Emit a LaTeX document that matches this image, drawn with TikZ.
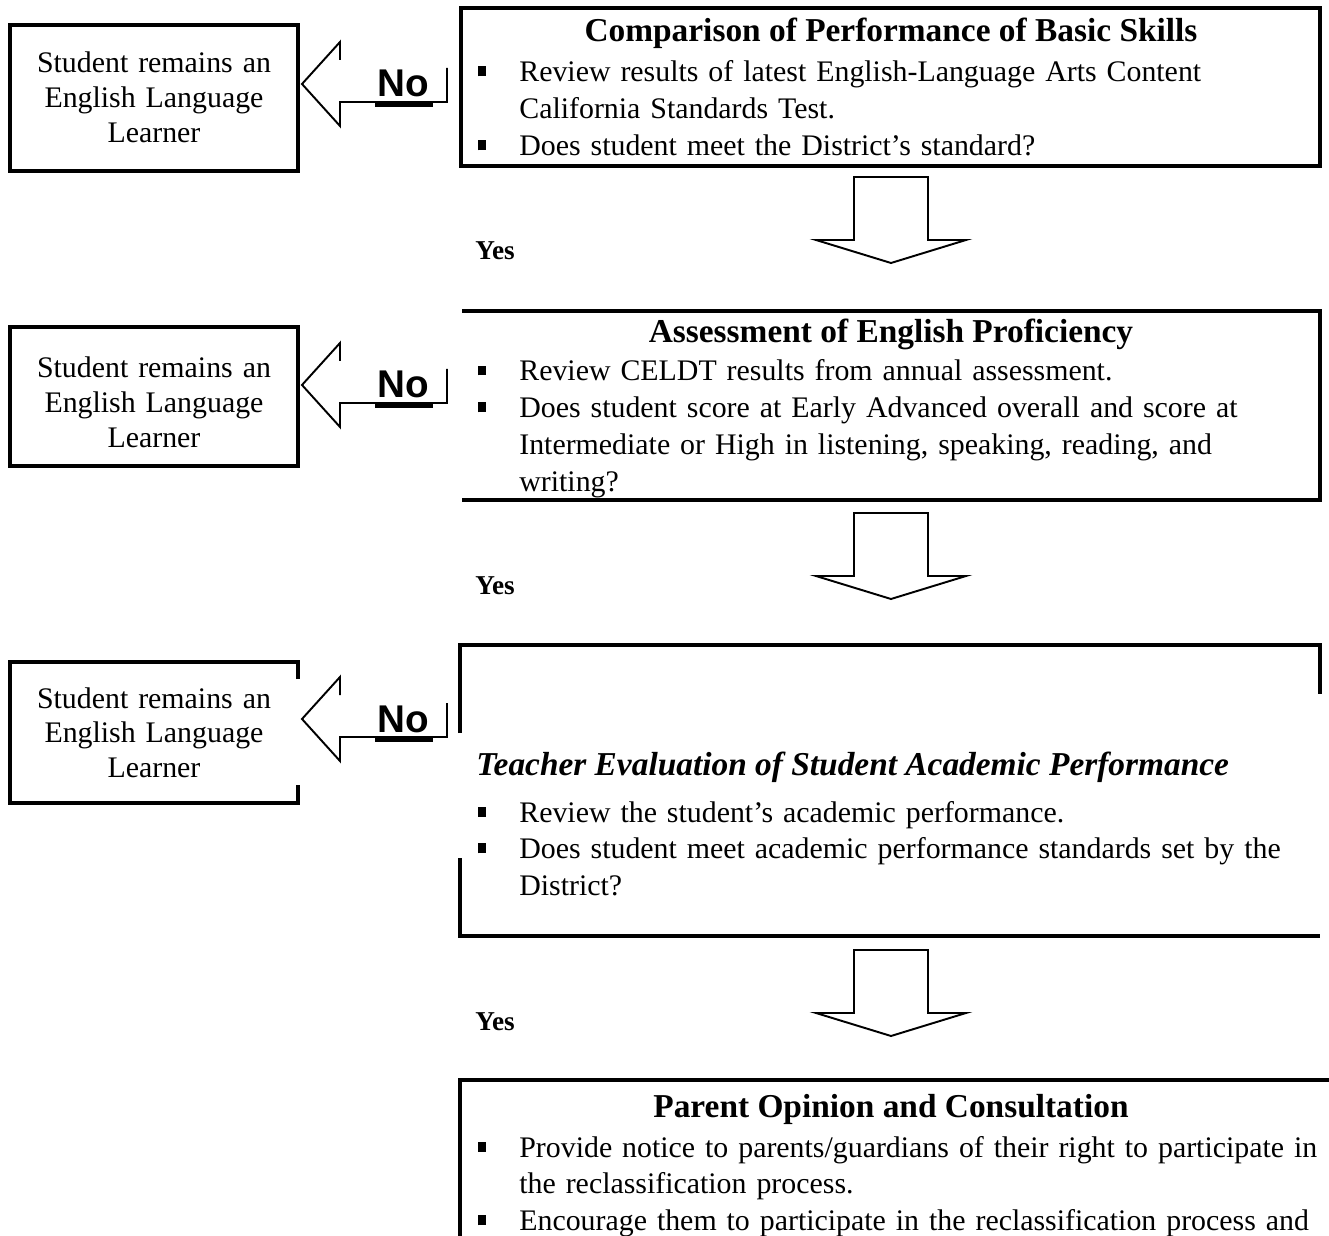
\documentclass[tikz,border=0pt]{standalone}
\usepackage{fontspec}
\setmainfont{Liberation Serif}
\newfontfamily\nofont{Liberation Sans}

\newcommand{\bitem}[1]{\noindent\hangindent=0.82cm\hangafter=1%
  \makebox[0.82cm][l]{\rule[0.11cm]{0.16cm}{0.2cm}}#1\par}

\tikzset{
  boxline/.style={line width=2.3pt},
  blockarrow/.style={line width=1.1pt, line join=miter},
  uline/.style={line width=2pt},
  leftlabel/.style={text width=5.6cm, align=center, inner sep=0pt, anchor=base,
    font=\fontsize{17}{19.9}\selectfont},
  heading/.style={inner sep=0pt, anchor=base, font=\fontsize{19}{22}\selectfont\bfseries},
  bullets/.style={text width=17.5cm, inner sep=0pt, anchor=base west,
    font=\fontsize{17}{21}\selectfont},
  nolabel/.style={inner sep=0pt, anchor=base, font=\nofont\bfseries\fontsize{22}{22}\selectfont},
  yeslabel/.style={inner sep=0pt, anchor=base west, font=\fontsize{15.5}{18}\selectfont\bfseries}
}

\begin{document}
\begin{tikzpicture}[x=0.02cm,y=-0.02cm]
\useasboundingbox (0,0) rectangle (1329,1236);

% left boxes
\draw[boxline] (10,25) rectangle (298,171);
\draw[boxline] (10,327) rectangle (298,466);
\draw[boxline] (298,679) -- (298,662) -- (10,662) -- (10,803) -- (298,803) -- (298,785);

\node[leftlabel] (ell1) at (154,73) {Student remains an\\English Language\\Learner};
\node[leftlabel] (ell2) at (154,378) {Student remains an\\English Language\\Learner};
\node[leftlabel] (ell3) at (154,708) {Student remains an\\English Language\\Learner};

% right boxes
\draw[boxline] (461,8) rectangle (1320,166);
\draw[boxline] (462,311) -- (1320,311) -- (1320,500) -- (462,500);
\draw[boxline] (460,733) -- (460,645) -- (1320,645) -- (1320,694);
\draw[boxline] (460,858) -- (460,936) -- (1320,936);
\draw[boxline] (1329,1080) -- (460,1080) -- (460,1240);

\node[heading] (skills) at (891,42) {Comparison of Performance of Basic Skills};
\node[bullets] (skillsitems) at (478,82) {%
  \bitem{Review results of latest English-Language Arts Content\newline California Standards Test.}%
  \bitem{Does student meet the District’s standard?}};

\node[heading] (english) at (891,343) {Assessment of English Proficiency};
\node[bullets] (englishitems) at (478,381) {%
  \bitem{Review CELDT results from annual assessment.}%
  \bitem{Does student score at Early Advanced overall and score at\newline Intermediate or High in listening, speaking, reading, and\newline writing?}};

\node[heading, anchor=base west, font=\fontsize{19}{22}\selectfont\bfseries\itshape] (teacher) at (476,775)
  {Teacher Evaluation of Student Academic Performance};
\node[bullets] (teacheritems) at (478,822) {%
  \bitem{Review the student’s academic performance.}%
  \bitem{Does student meet academic performance standards set by the\newline District?}};

\node[heading] (parent) at (891,1117) {Parent Opinion and Consultation};
\node[bullets] (parentitems) at (478,1157) {%
  \bitem{Provide notice to parents/guardians of their right to participate in\newline the reclassification process.}%
  \bitem{Encourage them to participate in the reclassification process and}};

% "No" arrows
\draw[blockarrow] (447,68) -- (447,102) -- (340,102) -- (340,126) -- (302,84) -- (340,42) -- (340,60);
\draw[blockarrow] (447,369) -- (447,403) -- (340,403) -- (340,427) -- (302,385) -- (340,343) -- (340,361);
\draw[blockarrow] (447,703) -- (447,737) -- (340,737) -- (340,761) -- (302,719) -- (340,677) -- (340,695);

\node[nolabel] (no1) at (403,97) {No};
\node[nolabel] (no2) at (403,398) {No};
\node[nolabel] (no3) at (403,732) {No};
\draw[uline] (375,105) -- (433,105);
\draw[uline] (375,406) -- (433,406);
\draw[uline] (375,740) -- (433,740);

% "Yes" arrows
\draw[blockarrow] (854,177) -- (928,177) -- (928,240) -- (966,240) -- (891,263) -- (816,240) -- (854,240) -- cycle;
\draw[blockarrow] (854,513) -- (928,513) -- (928,576) -- (966,576) -- (891,599) -- (816,576) -- (854,576) -- cycle;
\draw[blockarrow] (854,950) -- (928,950) -- (928,1013) -- (966,1013) -- (891,1036) -- (816,1013) -- (854,1013) -- cycle;

\node[yeslabel] (yes1) at (475,260) {Yes};
\node[yeslabel] (yes2) at (475,595) {Yes};
\node[yeslabel] (yes3) at (475,1030) {Yes};
\end{tikzpicture}
\end{document}
